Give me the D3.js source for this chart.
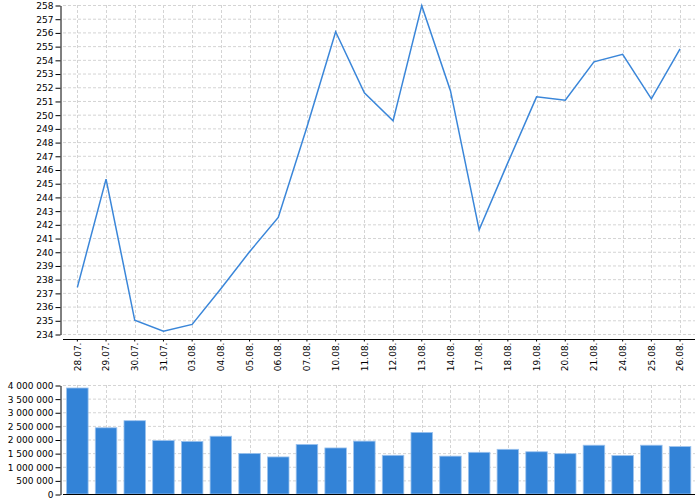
<!DOCTYPE html>
<html>
<head>
<meta charset="utf-8">
<script src="https://cdn.jsdelivr.net/npm/d3@7"></script>
<style>
  body { margin: 0; background: #fff; }
  text { font-family: "DejaVu Sans", sans-serif; font-size: 9px; fill: #000; }
</style>
</head>
<body>
<div id="root"></div>
<script>
const dates = ['28.07.', '29.07.', '30.07.', '31.07.', '03.08.', '04.08.', '05.08.', '06.08.',
               '07.08.', '10.08.', '11.08.', '12.08.', '13.08.', '14.08.', '17.08.', '18.08.',
               '19.08.', '20.08.', '21.08.', '24.08.', '25.08.', '26.08.'];
const prices = [237.4, 245.3, 235.0, 234.2, 234.7, 237.3, 240.0, 242.5,
                249.1, 256.05, 251.6, 249.55, 257.95, 251.75, 241.6, 246.5,
                251.3, 251.05, 253.85, 254.4, 251.15, 254.8];
const volumes = [3890000, 2430000, 2690000, 1960000, 1930000, 2120000, 1490000, 1360000,
                 1820000, 1690000, 1940000, 1420000, 2260000, 1390000, 1530000, 1640000,
                 1550000, 1480000, 1790000, 1410000, 1790000, 1740000];
const priceTicks = d3.range(234, 259, 1);
const volumeTicks = d3.range(0, 4000001, 500000);

const width = 700;
const height = 500;

// Dimensions
const left = 60;
const right = 695;
const top1 = 5, bottom1 = 334, xAxisY = 339;
const top2 = 385, bottom2 = 494;

const svg = d3.select('#root')
    .append('svg')
    .attr('width', width)
    .attr('height', height);

const x = d3.scaleBand()
    .domain(dates)
    .range([63, 694.4])
    .paddingInner(0.25)
    .paddingOuter(0.125);
const cx = d => x(d) + x.bandwidth() / 2;

const yPrice = d3.scaleLinear().domain([234, 258]).range([bottom1, top1]);
const yVol = d3.scaleLinear().domain([0, 4000000]).range([bottom2, top2]);

const fmt = d3.formatLocale({ decimal: '.', thousands: ' ', grouping: [3], currency: ['', ''] }).format(',');

const gridColor = '#d4d4d4';
const dash = '3,2';

// Grids
const grid = (y, ticks, y0, y1) => {
    const g = svg.append('g');
    g.selectAll('line.h').data(ticks).enter().append('line')
        .attr('x1', 63).attr('x2', right)
        .attr('y1', d => y(d) + 0.5).attr('y2', d => y(d) + 0.5)
        .attr('stroke', gridColor).attr('stroke-dasharray', dash);
    g.selectAll('line.v').data(dates).enter().append('line')
        .attr('x1', d => Math.round(cx(d)) + 0.5).attr('x2', d => Math.round(cx(d)) + 0.5)
        .attr('y1', y0).attr('y2', y1)
        .attr('stroke', gridColor).attr('stroke-dasharray', dash);
};
grid(yPrice, priceTicks, top1, bottom1);
grid(yVol, volumeTicks, top2, bottom2);

// Price line
const line = d3.line()
    .x((d, i) => cx(dates[i]))
    .y(d => yPrice(d));
svg.append('path')
    .datum(prices)
    .attr('d', line)
    .attr('fill', 'none')
    .attr('stroke', '#3a86d9')
    .attr('stroke-width', 1.5)
    .attr('stroke-linejoin', 'miter');

// Volume bars
svg.append('g')
    .selectAll('rect')
    .data(volumes)
    .enter().append('rect')
    .attr('x', (d, i) => x(dates[i]))
    .attr('y', d => yVol(d))
    .attr('width', x.bandwidth())
    .attr('height', d => bottom2 - yVol(d))
    .attr('fill', '#3383d7')
    .attr('stroke', '#9cc3ee')
    .attr('stroke-width', 0.8);

// Axes
const yAxis1 = d3.axisLeft(yPrice).tickValues(priceTicks).tickSize(5).tickSizeOuter(0).tickPadding(2);
svg.append('g')
    .attr('transform', `translate(${left + 0.5},0.5)`)
    .call(yAxis1);

const yAxis2 = d3.axisLeft(yVol).tickValues(volumeTicks).tickFormat(fmt).tickSize(5).tickSizeOuter(0).tickPadding(2);
svg.append('g')
    .attr('transform', `translate(${left + 0.5},0.5)`)
    .call(yAxis2);

const xAxis = d3.axisBottom(x).tickSize(2).tickSizeOuter(0);
const gx = svg.append('g')
    .attr('transform', `translate(0,${xAxisY + 0.5})`)
    .call(xAxis);
gx.select('.domain').attr('d', `M63,0H${right}`);
gx.selectAll('.tick text')
    .attr('text-anchor', 'end')
    .attr('transform', 'translate(0,3) rotate(-90)')
    .attr('x', 0)
    .attr('y', 0)
    .attr('dy', '0.35em');

svg.append('line')
    .attr('x1', 63).attr('x2', right)
    .attr('y1', bottom2 + 0.5).attr('y2', bottom2 + 0.5)
    .attr('stroke', '#000');

svg.selectAll('.domain').attr('stroke', '#000');
svg.selectAll('.tick line').attr('stroke', '#000');
svg.selectAll('.tick text').attr('font-size', 9).attr('font-family', '"DejaVu Sans", sans-serif');
</script>
</body>
</html>
